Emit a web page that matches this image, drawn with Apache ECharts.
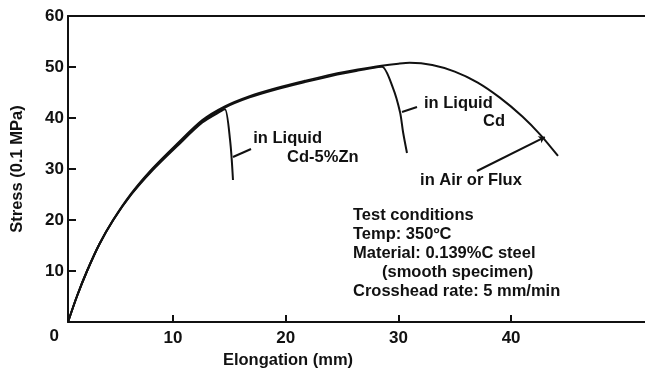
<!DOCTYPE html>
<html><head><meta charset="utf-8">
<script src="https://cdn.jsdelivr.net/npm/echarts@6/dist/echarts.min.js"></script>
<style>html,body{margin:0;padding:0;background:#fff}#c{width:645px;height:369px}</style>
</head><body><div id="c"></div>
<script>
// ---- data ----
const xTickValues = [10, 20, 30, 40];
const yTickMin = 0, yTickMax = 60, yTickStep = 10;
const xRange = [0.68, 51.88];

const airFlux = [[0.68,0],[1.5,5.2],[2.37,10],[3.45,15.2],[4.69,20],[6.3,25.2],[8.14,30],[10.3,34.8],[12.6,39.6],[14.6,42.3],[16.8,44.3],[19.2,45.9],[21.7,47.3],[24.2,48.6],[26.4,49.5],[28.5,50.25],[30,50.65],[31,50.82],[33,50.4],[35,49.1],[37,47.0],[39,44.0],[41,40.3],[42.6,36.7],[44.16,32.55]];
const liquidCd = [[0.68,0],[1.5,5.2],[2.37,10],[3.45,15.2],[4.69,20],[6.3,25.1],[8.14,29.85],[10.3,34.6],[12.6,39.35],[14.6,42.05],[16.8,44.05],[19.2,45.65],[21.7,47.05],[24.2,48.35],[26.4,49.3],[28.2,50.0],[28.55,50.05],[29.52,45.88],[30.14,41.18],[30.41,37.25],[30.76,33.14]];
const liquidCdZn = [[0.68,0],[1.5,5.2],[2.37,10],[3.45,15.2],[4.69,20],[6.3,25.0],[8.14,29.65],[10.3,34.35],[12.6,39.1],[14.3,41.4],[14.61,41.7],[15.06,35.69],[15.32,27.84]];

const leaderZn = [[15.32,32.35],[16.92,33.92]];
const leaderCd = [[30.32,41.18],[31.65,42.16]];
const leaderAir = [[36.97,29.61],[42.99,36.27]];

const noteTexts = ['in Liquid', 'Cd-5%Zn', 'in Liquid', 'Cd', 'in Air or Flux'];
const noteAt = [[17.12,36.08],[20.12,32.35],[32.27,42.94],[37.51,39.41],[31.92,27.84]];

const conditionLines = ['Test conditions', 'Temp: 350ºC', 'Material: 0.139%C steel', '(smooth specimen)', 'Crosshead rate: 5 mm/min'];
const conditionAt = [25.97, 20.98];

// ---- chart ----
const FONT = "'Liberation Sans', Arial, Helvetica, sans-serif";
const INK = '#111';
const chart = echarts.init(document.getElementById('c'), null, {renderer: 'canvas'});

const curveStyle = {color: INK, width: 2};
function leader(pts, arrow) {
  return {
    silent: true,
    symbol: arrow ? ['none', 'arrow'] : ['none', 'none'],
    symbolSize: arrow ? 6 : 0,
    lineStyle: {color: INK, width: 2, type: 'solid'},
    label: {show: false},
    emphasis: {disabled: true},
    data: [[{coord: pts[0]}, {coord: pts[1]}]]
  };
}
function curve(name, data, lead, arrow) {
  return {name: name, type: 'line', data: data, showSymbol: false, smooth: 0.3,
    lineStyle: curveStyle, emphasis: {disabled: true}, markLine: leader(lead, arrow)};
}

chart.setOption({
  animation: false,
  backgroundColor: '#fff',
  grid: {left: 68, right: 0, top: 16, bottom: 47, outerBoundsMode: 'none', containLabel: false},
  xAxis: [{
    type: 'value', min: xRange[0], max: xRange[1],
    axisLine: {show: true, onZero: false, lineStyle: {color: INK, width: 2}},
    axisTick: {show: true, inside: true, length: 7, customValues: xTickValues, lineStyle: {color: INK, width: 2}},
    axisLabel: {show: true, customValues: xTickValues, margin: 8, color: INK, fontSize: 17, fontWeight: 'bold', fontFamily: FONT},
    splitLine: {show: false},
    name: 'Elongation (mm)', nameLocation: 'middle', nameGap: 28,
    nameTextStyle: {color: INK, fontSize: 16.5, fontWeight: 'bold', fontFamily: FONT, padding: [0, 137, 0, 0]}
  }, {
    type: 'value', position: 'top', min: xRange[0], max: xRange[1],
    axisLine: {show: true, onZero: false, lineStyle: {color: INK, width: 2}},
    axisTick: {show: false}, axisLabel: {show: false}, splitLine: {show: false}
  }],
  yAxis: {
    type: 'value', min: yTickMin, max: yTickMax, interval: yTickStep,
    axisLine: {show: true, onZero: false, lineStyle: {color: INK, width: 2}},
    axisTick: {show: true, inside: true, length: 8, lineStyle: {color: INK, width: 2}},
    axisLabel: {
      margin: 4, color: INK, fontSize: 17, fontWeight: 'bold', fontFamily: FONT,
      formatter: v => v === 0 ? '{o|0}' : String(v),
      rich: {o: {color: INK, fontSize: 17, fontWeight: 'bold', fontFamily: FONT, padding: [28, 5, 0, 0]}}
    },
    splitLine: {show: false},
    name: 'Stress (0.1 MPa)', nameLocation: 'middle', nameGap: 42, nameRotate: 90,
    nameTextStyle: {color: INK, fontSize: 16.5, fontWeight: 'bold', fontFamily: FONT}
  },
  series: [
    curve('in Air or Flux', airFlux, leaderAir, true),
    curve('in Liquid Cd', liquidCd, leaderCd, false),
    curve('in Liquid Cd-5%Zn', liquidCdZn, leaderZn, false)
  ]
});

const textStyle = {fill: INK, font: 'bold 16.5px ' + FONT, textVerticalAlign: 'middle', textAlign: 'left'};
const graphics = noteTexts.map((t, i) => {
  const p = chart.convertToPixel({gridIndex: 0}, noteAt[i]);
  return {type: 'text', x: p[0], y: p[1], style: Object.assign({text: t}, textStyle), silent: true};
});
const c0 = chart.convertToPixel({gridIndex: 0}, conditionAt);
conditionLines.forEach((t, i) => {
  graphics.push({type: 'text', x: c0[0] + (t.startsWith('(') ? 29 : 0), y: c0[1] + i * 19.2,
    style: Object.assign({text: t}, textStyle), silent: true});
});
chart.setOption({graphic: graphics});
</script></body></html>
